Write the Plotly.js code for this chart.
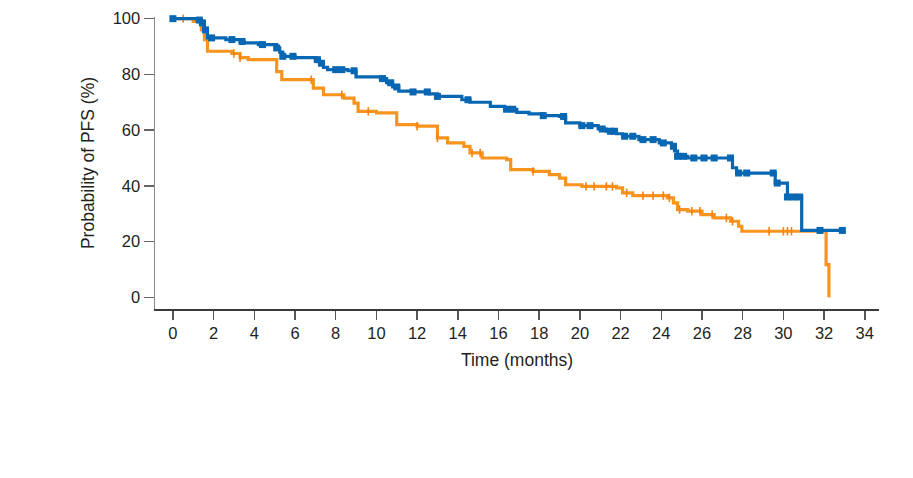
<!DOCTYPE html>
<html>
<head>
<meta charset="utf-8">
<script src="https://cdn.plot.ly/plotly-3.0.1.min.js"></script>
<style>html,body{margin:0;padding:0;background:#fff;}#chart{width:913px;height:478px;}</style>
</head>
<body>
<div id="chart"></div>
<script>
// Blue arm: step times (months) and survival (%)
var blueTime = [0, 1.2, 1.4, 1.55, 1.7, 2.6, 3.3, 3.5, 4.2, 5.1, 5.25, 5.4, 6.0, 7.0, 7.2, 7.4, 7.6, 8.6, 9.0, 10.2, 10.5, 10.8, 11.1, 11.8, 12.6, 13.0, 14.2, 14.6, 15.6, 16.3, 16.9, 17.5, 18.2, 19.0, 19.3, 20.0, 20.9, 21.3, 21.8, 22.1, 22.9, 23.9, 24.5, 24.65, 24.8, 25.3, 27.5, 27.7, 29.6, 30.2, 30.9, 32.9];
var blueSurv = [100, 99.5, 98.5, 96, 93.1, 92.5, 91.8, 91.3, 90.7, 89.5, 88, 86.5, 86, 85.3, 84, 82.5, 81.7, 81.3, 79.1, 78.5, 77, 75.5, 74, 73.7, 73, 72.1, 70.9, 70, 68.5, 67.5, 66.4, 65.8, 65.2, 64.9, 62.6, 61.6, 60.4, 59.6, 58.7, 57.8, 56.6, 55.4, 54.2, 52.5, 50.6, 50, 46.5, 44.6, 41, 36, 24, 24];
var blueCensor = [0, 1.3, 1.45, 1.6, 1.9, 2.9, 3.4, 4.4, 5.1, 5.4, 5.9, 7.1, 7.3, 8.0, 8.3, 8.9, 10.3, 10.7, 11.0, 11.8, 12.5, 13.0, 14.5, 16.4, 16.7, 18.2, 19.2, 20.1, 20.5, 21.1, 21.5, 21.7, 22.2, 22.6, 23.1, 23.6, 24.1, 24.6, 24.8, 25.1, 25.6, 26.1, 26.6, 27.4, 27.8, 28.2, 29.5, 29.7, 30.2, 30.5, 30.8, 31.8, 32.9];

// Orange arm
var orangeTime = [0, 1.0, 1.4, 1.55, 1.7, 2.9, 3.3, 3.7, 5.1, 5.35, 6.9, 7.4, 8.4, 8.9, 9.1, 10.0, 11.0, 12.0, 13.0, 13.5, 14.3, 14.6, 15.2, 16.4, 16.6, 17.7, 18.5, 19.0, 19.3, 20.1, 21.8, 22.1, 22.6, 24.3, 24.6, 24.8, 25.3, 26.0, 26.6, 27.4, 27.8, 27.96, 32.1, 32.24];
var orangeSurv = [100, 99, 96, 92.5, 88.3, 87.5, 86, 85.3, 81, 78.1, 75.1, 72.7, 71.5, 69.7, 66.7, 66.2, 62, 61.4, 57.2, 55.4, 54.2, 51.8, 50, 49.4, 45.8, 45.2, 44, 42.8, 40.4, 39.8, 39.3, 37.5, 36.5, 35.7, 33.9, 31.5, 30.9, 29.7, 28.5, 27.3, 25.5, 23.7, 11.7, 0];
var orangeCensor = [0.5, 3.0, 3.3, 6.8, 8.3, 9.6, 12.0, 13.0, 14.7, 15.1, 17.7, 20.3, 20.7, 21.3, 21.6, 22.3, 23.1, 23.6, 24.1, 24.4, 24.9, 25.5, 25.9, 26.5, 27.2, 27.5, 29.3, 30.0, 30.2, 30.4];

var xTicks = [0, 2, 4, 6, 8, 10, 12, 14, 16, 18, 20, 22, 24, 26, 28, 30, 32, 34];
var yTicks = [0, 20, 40, 60, 80, 100];

var BLUE = '#0867b3';
var ORANGE = '#f7941e';

function stepAt(times, surv, t) {
  var v = surv[0];
  for (var i = 0; i < times.length; i++) { if (times[i] <= t + 1e-9) v = surv[i]; }
  return v;
}

var traces = [
  {x: orangeTime, y: orangeSurv, type: 'scatter', mode: 'lines', line: {shape: 'hv', color: ORANGE, width: 3.2}, hoverinfo: 'skip'},
  {x: orangeCensor, y: orangeCensor.map(function(t){return stepAt(orangeTime, orangeSurv, t);}), type: 'scatter', mode: 'markers',
   marker: {symbol: 'line-ns-open', size: 6, line: {color: ORANGE, width: 1.6}}, cliponaxis: false, hoverinfo: 'skip'},
  {x: blueTime, y: blueSurv, type: 'scatter', mode: 'lines', line: {shape: 'hv', color: BLUE, width: 3.2}, hoverinfo: 'skip'},
  {x: blueCensor, y: blueCensor.map(function(t){return stepAt(blueTime, blueSurv, t);}), type: 'scatter', mode: 'markers',
   marker: {symbol: 'square', size: 7, color: BLUE, line: {width: 0}}, cliponaxis: false, hoverinfo: 'skip'}
];

var layout = {
  width: 913, height: 478,
  margin: {l: 155, r: 34, t: 17.3, b: 168.7},
  paper_bgcolor: '#fff', plot_bgcolor: '#fff',
  showlegend: false,
  font: {family: 'Liberation Sans, Arial, sans-serif', color: '#231f20', size: 16.5},
  xaxis: {
    range: [-0.88, 34.7], tickvals: xTicks, ticktext: xTicks.map(String),
    showgrid: false, zeroline: false, showline: true, linecolor: '#3a3a3a', linewidth: 1.5,
    ticks: 'outside', ticklen: 9, tickwidth: 1.5, tickcolor: '#555',
    tickfont: {size: 16.5, color: '#231f20'},
    title: {text: 'Time (months)', font: {size: 17.5, color: '#231f20'}, standoff: 12}
  },
  yaxis: {
    range: [-4.2, 100.6], tickvals: yTicks, ticktext: yTicks.map(String),
    showgrid: false, zeroline: false, showline: true, linecolor: '#8a8a8a', linewidth: 1.5,
    ticks: 'outside', ticklen: 10, tickwidth: 1.5, tickcolor: '#666',
    tickfont: {size: 16.5, color: '#231f20'},
    title: {text: 'Probability of PFS (%)', font: {size: 17.5, color: '#231f20'}, standoff: 13}
  }
};

Plotly.newPlot('chart', traces, layout, {staticPlot: true, displayModeBar: false});
</script>
</body>
</html>
